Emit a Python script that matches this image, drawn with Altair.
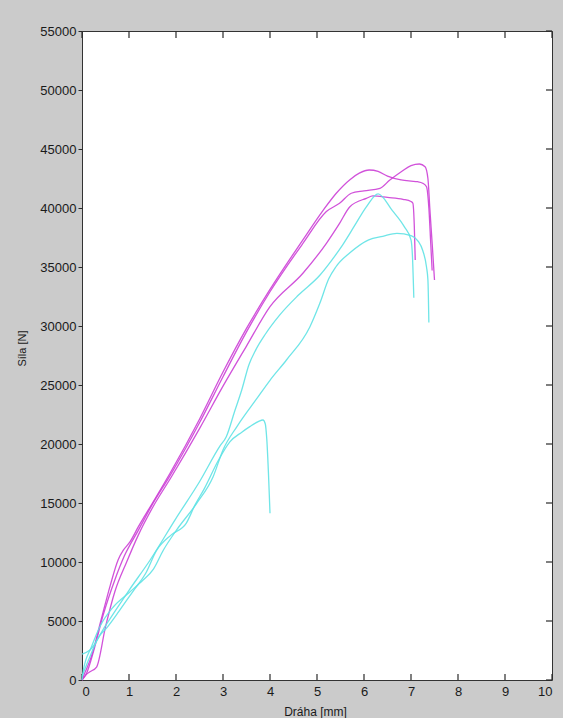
import altair as alt
import pandas as pd

# ---- data (x: Dráha [mm], y: Síla [N]) ----
m1_x = [0, 0.05, 0.2, 0.4, 0.6, 0.77, 0.88, 1.02, 1.2, 1.5, 1.87, 2.5, 3.0, 3.5, 4.0, 4.7, 5.13, 5.41, 5.7, 5.9, 6.11, 6.3, 6.5, 6.79, 7.0, 7.14, 7.25, 7.33, 7.38, 7.42, 7.45]
m1_y = [0, 500, 2000, 5000, 8000, 10200, 11000, 11700, 13000, 15000, 17500, 22100, 26100, 29800, 33100, 37300, 39800, 41250, 42400, 42950, 43220, 43100, 42700, 42380, 42280, 42230, 42100, 41800, 40000, 37000, 34700]

m2_x = [0, 0.1, 0.25, 0.45, 0.7, 0.9, 1.2, 1.5, 1.87, 2.5, 3.0, 3.5, 4.0, 4.7, 5.2, 5.48, 5.73, 6.0, 6.34, 6.55, 6.8, 7.0, 7.18, 7.3, 7.36, 7.4, 7.45, 7.5]
m2_y = [0, 600, 2500, 5500, 8500, 10500, 12700, 14900, 17300, 21800, 25700, 29500, 32900, 37000, 39700, 40400, 41250, 41450, 41670, 42375, 43100, 43600, 43730, 43500, 42500, 40000, 37000, 33900]

m3_x = [0, 0.1, 0.17, 0.31, 0.5, 0.7, 0.95, 1.2, 1.5, 1.9, 2.5, 3.0, 3.5, 4.0, 4.7, 5.2, 5.48, 5.7, 6.05, 6.19, 6.5, 6.83, 7.0, 7.04, 7.07, 7.09]
m3_y = [0, 500, 700, 1100, 4500, 7500, 10000, 12300, 14600, 17200, 21300, 24900, 28300, 31640, 34470, 37010, 38700, 40110, 40820, 41020, 40900, 40740, 40550, 40400, 38500, 35600]

c1_x = [0, 0.17, 0.5, 1.0, 1.45, 2.0, 2.5, 2.93, 3.07, 3.25, 3.4, 3.55, 3.7, 3.9, 4.2, 4.6, 5.06, 5.3, 5.55, 5.8, 6.05, 6.3, 6.6, 6.86, 7.0, 7.03, 7.06]
c1_y = [2200, 2540, 4600, 7600, 10170, 13700, 16800, 19800, 20620, 22800, 24600, 26700, 28000, 29300, 30900, 32600, 34300, 35500, 36900, 38500, 40100, 41200, 39800, 38400, 37300, 36000, 32400]

c2_x = [0, 0.03, 0.2, 0.38, 0.67, 1.0, 1.3, 1.52, 1.73, 2.01, 2.44, 2.79, 3.0, 3.3, 3.71, 4.0, 4.35, 4.85, 5.06, 5.25, 5.4, 5.7, 6.1, 6.4, 6.7, 7.0, 7.15, 7.25, 7.33, 7.36, 7.38]
c2_y = [0, 850, 2800, 4520, 6210, 7400, 8470, 9400, 11000, 12700, 14970, 17230, 19500, 21500, 23800, 25400, 27120, 29940, 31920, 34000, 35000, 36200, 37300, 37600, 37850, 37650, 37200, 36400, 35000, 33900, 30300]

c3_x = [0, 0.15, 0.38, 0.5, 0.8, 1.1, 1.35, 1.59, 1.9, 2.22, 2.4, 2.6, 2.9, 3.15, 3.4, 3.57, 3.75, 3.85, 3.9, 3.93, 4.0]
c3_y = [300, 1800, 3800, 4300, 5900, 7600, 9000, 11000, 12300, 13300, 14800, 16200, 18600, 20200, 21000, 21470, 21900, 22035, 21700, 20500, 14130]

series = [
    ("m1", "magenta", m1_x, m1_y),
    ("m2", "magenta", m2_x, m2_y),
    ("m3", "magenta", m3_x, m3_y),
    ("c1", "cyan", c1_x, c1_y),
    ("c2", "cyan", c2_x, c2_y),
    ("c3", "cyan", c3_x, c3_y),
]

x_ticks = list(range(0, 11))
y_ticks = list(range(0, 55001, 5000))

rows = []
for name, grp, xs, ys in series:
    for i, (xv, yv) in enumerate(zip(xs, ys)):
        rows.append({"curve": name, "group": grp, "i": i, "x": xv, "y": yv})
df = pd.DataFrame(rows)
xt_df = pd.DataFrame({"x": x_ticks})
yt_df = pd.DataFrame({"y": y_ticks})

W, H = 470, 649
TICK = 6
TCOL = "#2a2a2a"
FONT = "Liberation Sans"
xscale = alt.Scale(domain=[0, 10], nice=False, zero=False)
yscale = alt.Scale(domain=[0, 55000], nice=False, zero=False)

lines = alt.Chart(df).mark_line(strokeWidth=1.3, opacity=0.9, interpolate="monotone").encode(
    x=alt.X("x:Q", scale=xscale,
            axis=alt.Axis(orient="bottom", values=x_ticks, ticks=False, domain=False, grid=False,
                          format="d",
                          labelFont=FONT, labelFontSize=13, labelColor="#1a1a1a", labelPadding=5,
                          title="Dráha [mm]", titleFont=FONT, titleFontSize=12, titleFontWeight="normal",
                          titleColor="#1a1a1a", titleX=233, titleY=31, titleBaseline="middle",
                          titleAlign="center")),
    y=alt.Y("y:Q", scale=yscale,
            axis=alt.Axis(orient="left", values=y_ticks, ticks=True, tickSize=4, tickColor=TCOL,
                          domain=False, grid=False, format="d",
                          labelFont=FONT, labelFontSize=13, labelColor="#1a1a1a", labelPadding=2,
                          title="Síla [N]", titleFont=FONT, titleFontSize=11, titleFontWeight="normal",
                          titleColor="#1a1a1a", titleX=-60, titleY=317, titleAngle=270,
                          titleBaseline="middle", titleAlign="center")),
    color=alt.Color("group:N", scale=alt.Scale(domain=["magenta", "cyan"], range=["#cc3fd6", "#5fe2e4"]),
                    legend=None),
    detail="curve:N",
    order="i:Q",
)

# inward-pointing tick marks (MATLAB style) on the bottom, top and right edges of the box
xt = alt.Chart(xt_df)
yt = alt.Chart(yt_df)
tick_bottom = xt.mark_rule(color=TCOL, strokeWidth=1.2).encode(
    x=alt.X("x:Q", scale=xscale), y=alt.value(H - TICK), y2=alt.value(H))
tick_top = xt.mark_rule(color=TCOL, strokeWidth=1.2).encode(
    x=alt.X("x:Q", scale=xscale), y=alt.value(0), y2=alt.value(TICK + 1))
tick_right = yt.mark_rule(color=TCOL, strokeWidth=1.2).encode(
    y=alt.Y("y:Q", scale=yscale), x=alt.value(W - TICK), x2=alt.value(W))

chart = alt.layer(
    tick_bottom, tick_top, tick_right, lines,
).properties(
    width=W,
    height=H,
    padding={"left": 82, "top": 31, "right": 11, "bottom": 38},
    autosize=alt.AutoSizeParams(type="none"),
    background="#cbcbcb",
).configure_view(
    fill="white", stroke="#333333", strokeWidth=1
)

chart.save("out.html", embed_options={"renderer": "svg", "actions": False})
